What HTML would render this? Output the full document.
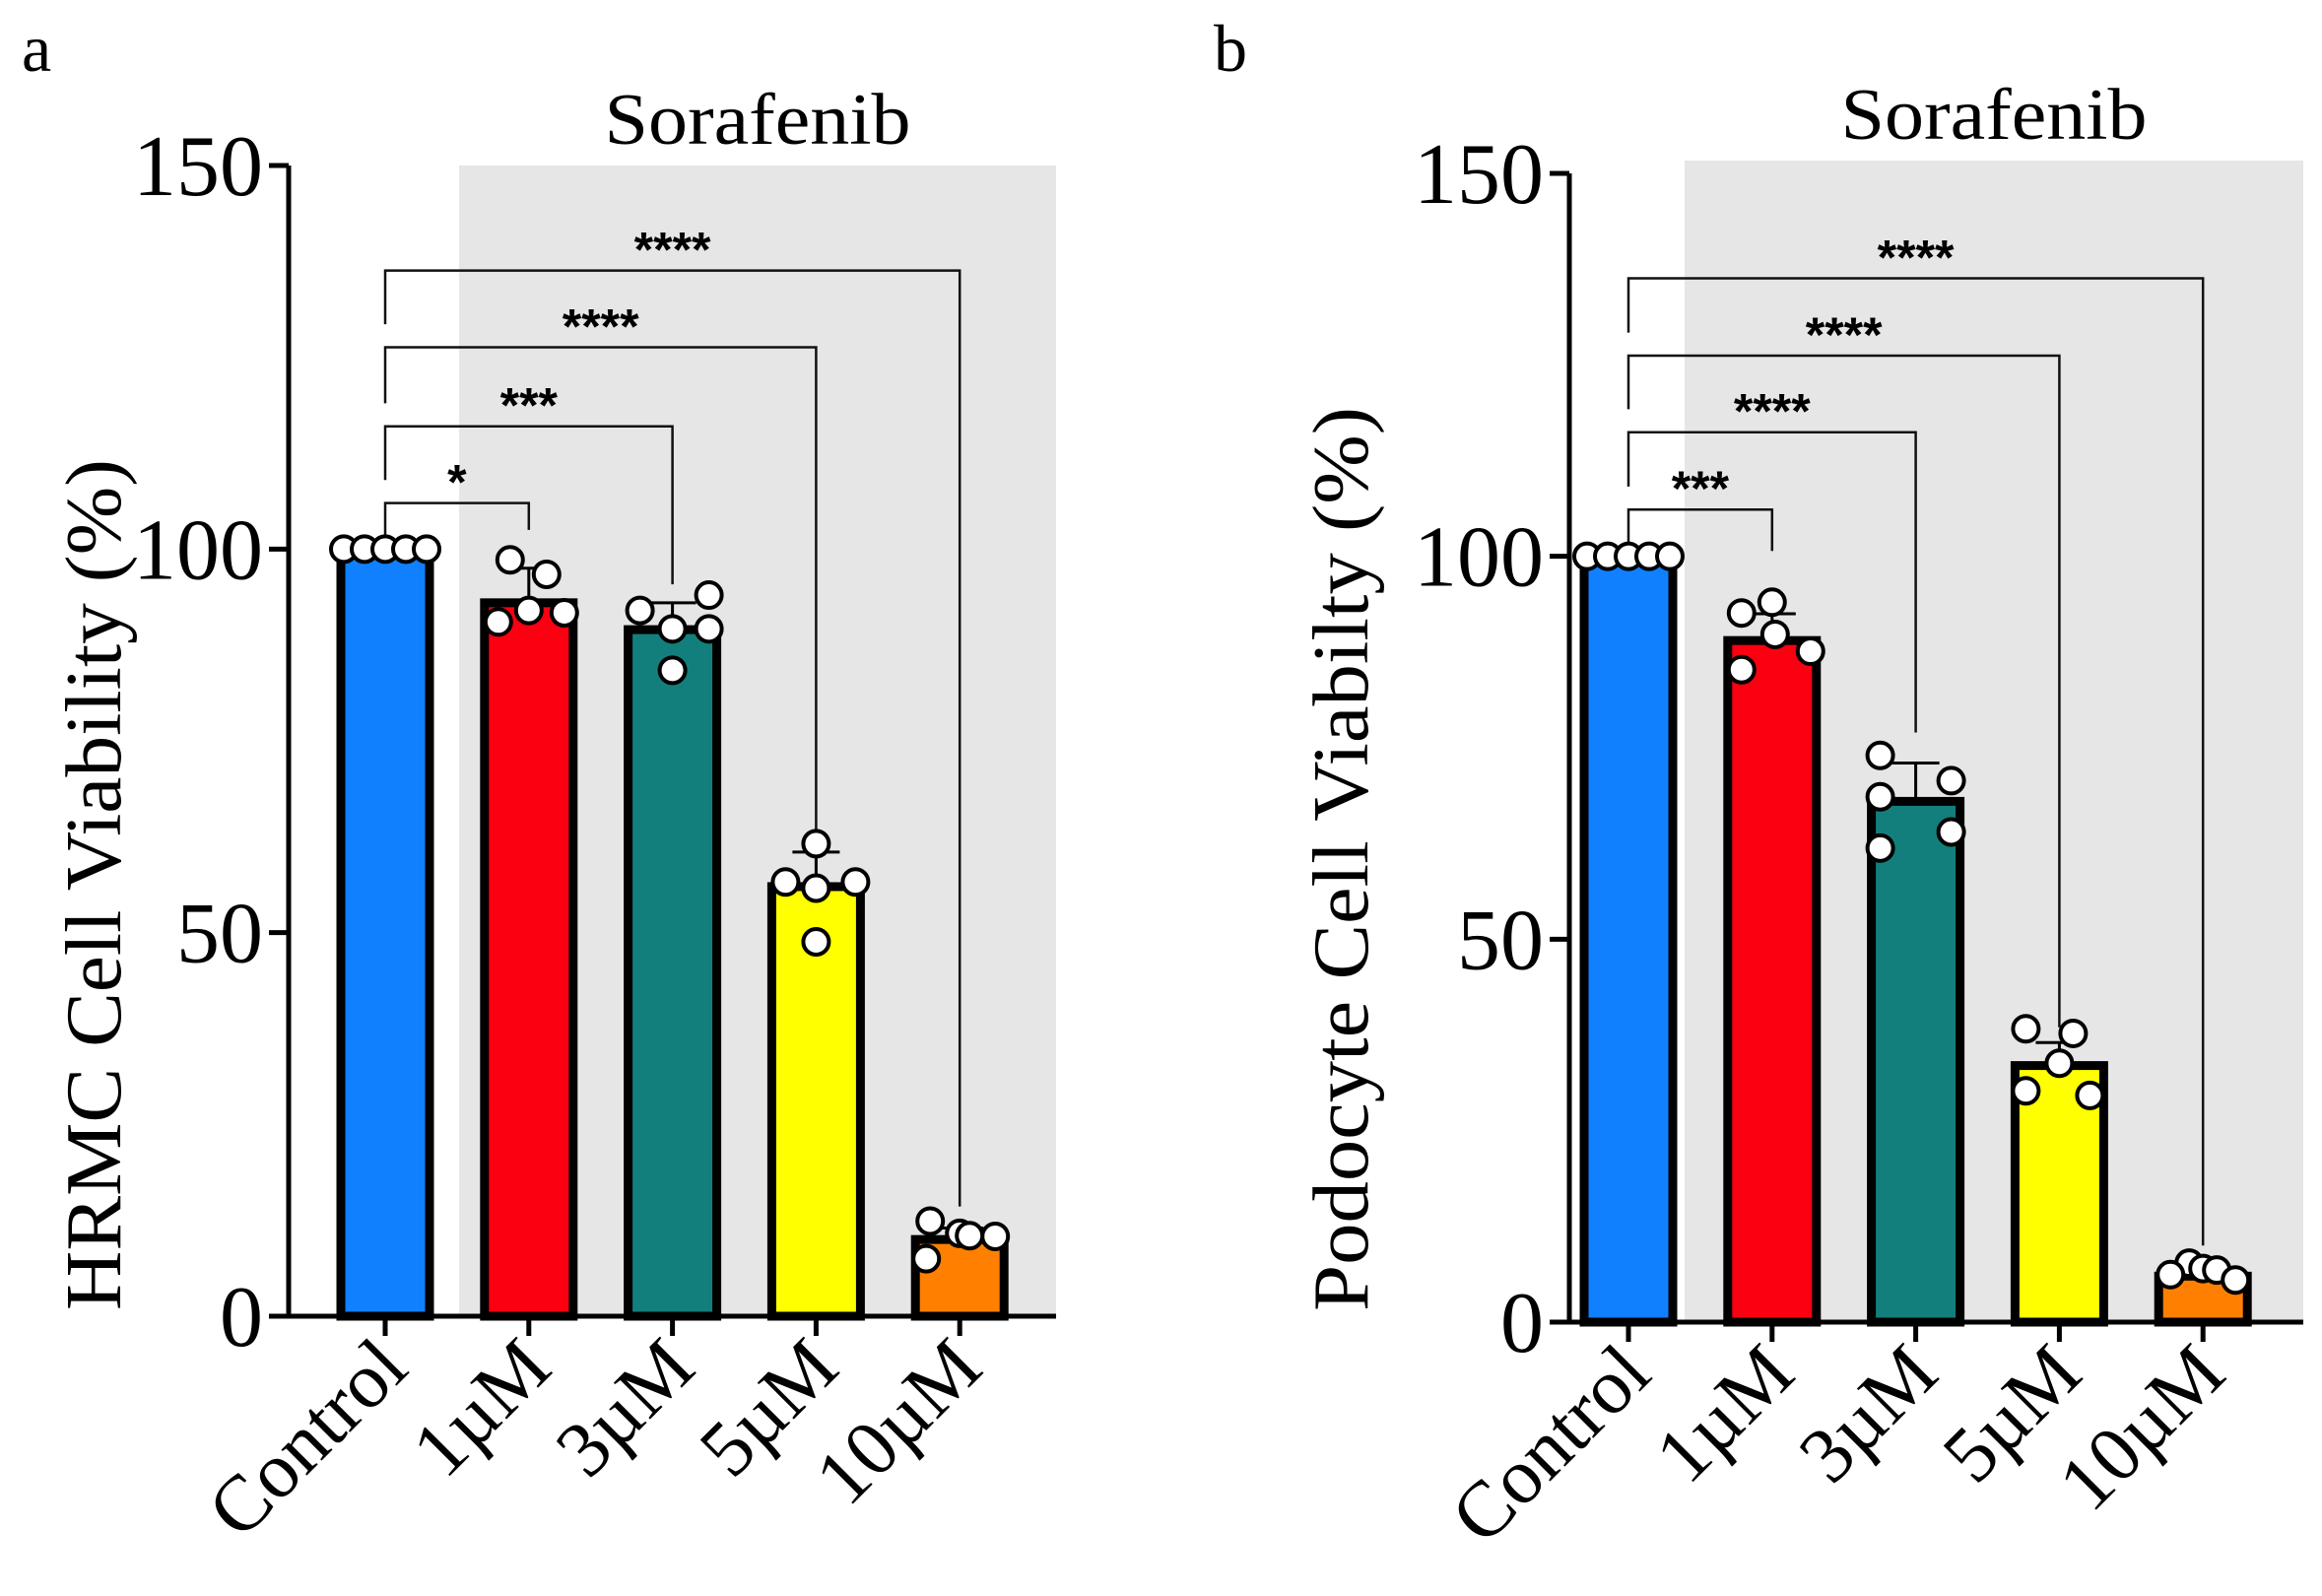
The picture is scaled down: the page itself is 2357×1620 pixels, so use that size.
<!DOCTYPE html>
<html><head><meta charset="utf-8"><style>
html,body{margin:0;padding:0;background:#fff}
svg{display:block;font-family:"Liberation Serif",serif}
</style></head><body>
<svg id="chart" width="2357" height="1620" viewBox="0 0 2357 1620" xmlns="http://www.w3.org/2000/svg"></svg>
<script>
const categories = ["Control","1µM","3µM","5µM","10µM"];
const yTicks = [0,50,100,150];
const colors = ["#1080ff","#fa0010","#127f7c","#ffff00","#ff8000"];
// Panel a
const meansA = [100,93,89.5,56,10];
const errA = [100,97.5,93,60.5,11.5];
const pointsA = [[100,100,100,100,100],[98.6,96.7,90.5,92,91.7],[92,94,89.6,89.6,84.2],[61.6,56.6,56.6,55.8,48.8],[12.4,10.8,10.4,7.5,10.5]];
const sigA = ["*","***","****","****"];
const sigLevelA = [106,116,126.3,136.3];
const sigEndA = [102.5,95.4,62.5,14.3];
// Panel b
const meansB = [100,89,68,33.5,6];
const errB = [100,92.5,73,36.5,7.5];
const pointsB = [[100,100,100,100,100],[94,92.6,89.8,87.6,85.2],[74,70.7,68.6,61.9,64],[38.3,37.7,33.8,30.2,29.6],[7.7,7,6.8,6.2,5.5]];
const sigB = ["***","****","****","****"];
const sigLevelB = [106.1,116.2,126.2,136.3];
const sigEndB = [100.7,77,38.5,10];

// horizontal jitter layout (px)
const jitA=[[-42,-21,0,21,42],[-19,18,-31,0,36],[-33,37,0,37,0],[0,-31,40,0,0],[-30,0,36,-34,10]];
const jitB=[[-42,-21,0,21,42],[0,-31,3,39,-31],[-36,36,-36,-36,36],[-34,14,0,-34,31],[-14,0,14,-33,33]];

const NS="http://www.w3.org/2000/svg";
const svg=document.getElementById('chart');
function mk(tag,attrs,parent){const e=document.createElementNS(NS,tag);for(const k in attrs)e.setAttribute(k,attrs[k]);(parent||svg).appendChild(e);return e;}

function panel(P){
  const g=mk('g',{});
  
  
  const y=v=>P.y0-(P.y0-P.y150)*v/150;
  const x=i=>P.xc[0]+i*P.step;
  const sh=mk('rect',{x:P.shadeX,y:P.shadeTop,width:P.axisEnd-P.shadeX,height:P.y0-P.shadeTop,fill:'#e6e6e6'},g);
  
  
  const st=mk('text',{x:(P.shadeX+P.axisEnd)/2,y:P.shadeTop-22,'font-size':74,'text-anchor':'middle',textLength:311,lengthAdjust:'spacingAndGlyphs'},g);
  st.textContent='Sorafenib';
  
  
  const lt=mk('text',{x:P.letterX,y:72,'font-size':68},g);
  lt.textContent=P.id;
  
  
  for(let k=0;k<4;k++){
    const ly=y(P.sigLevel[k]);
    const xe=x(k+1);
    const x0=x(0);
    const legTop=k===0?y(101.5):y(P.sigLevel[k-1]+3);
    const br=mk('path',{d:`M${x0} ${legTop} L${x0} ${ly} L${xe} ${ly} L${xe} ${y(P.sigEnd[k])}`,fill:'none',stroke:'#111',"stroke-width":2.5},g);
    
    
    const tx=mk('text',{x:(x0+xe)/2,y:ly-4,'font-size':50,'font-weight':'bold','text-anchor':'middle','font-family':'Liberation Sans, sans-serif'},g);
    tx.textContent=P.sig[k];
    
    
  }
  const bw=90;
  for(let i=0;i<5;i++){
    const b=mk('rect',{x:x(i)-bw/2,y:y(P.means[i]),width:bw,height:P.y0-y(P.means[i]),fill:colors[i],stroke:'#000','stroke-width':9},g);
    
    
    if(P.err[i]>P.means[i]){
      const e=mk('path',{d:`M${x(i)} ${y(P.means[i])} L${x(i)} ${y(P.err[i])} M${x(i)-24} ${y(P.err[i])} L${x(i)+24} ${y(P.err[i])}`,stroke:'#000','stroke-width':3},g);
      
      
    }
  }
  for(let i=0;i<5;i++){
    P.pts[i].forEach((v,j)=>{
      const c=mk('circle',{cx:x(i)+P.jit[i][j],cy:y(v),r:13,fill:'#fff',stroke:'#000','stroke-width':4},g);
      
      
    });
  }
  const ax=mk('path',{d:`M${P.ax} ${P.y150} L${P.ax} ${P.y0} L${P.axisEnd} ${P.y0}`,fill:'none',stroke:'#000','stroke-width':5},g);
  
  
  yTicks.forEach(t=>{
    const tk=mk('line',{x1:P.ax-20,x2:P.ax,y1:y(t),y2:y(t),stroke:'#000','stroke-width':5},g);
    
    
    const tl=mk('text',{x:P.ax-26,y:y(t)+30,'font-size':88,'text-anchor':'end'},g);
    tl.textContent=t;
    
    
  });
  categories.forEach((c,i)=>{
    const tk=mk('line',{x1:x(i),x2:x(i),y1:P.y0,y2:P.y0+20,stroke:'#000','stroke-width':5},g);
    
    
    const tl=mk('text',{x:0,y:0,'font-size':80,'text-anchor':'end',transform:`translate(${x(i)+26},${P.y0+56}) rotate(-45)`},g);
    tl.textContent=c;
    
    
  });
  const yt=mk('text',{x:0,y:0,'font-size':80,'text-anchor':'middle',textLength:P.titleLen,lengthAdjust:'spacingAndGlyphs',transform:`translate(${P.titleX},${P.titleY}) rotate(-90)`},g);
  yt.textContent=P.title;
  
  
}

panel({id:'a',y0:1336,y150:168,ax:293,axisEnd:1072,xc:[391],step:145.8,shadeX:466,shadeTop:168,letterX:22,
  means:meansA,err:errA,pts:pointsA,jit:jitA,sig:sigA,sigLevel:sigLevelA,sigEnd:sigEndA,
  title:'HRMC Cell Viability (%)',titleX:122,titleY:898,titleLen:864});
panel({id:'b',y0:1342,y150:176,ax:1593,axisEnd:2338,xc:[1653],step:145.8,shadeX:1710,shadeTop:163,letterX:1232,
  means:meansB,err:errB,pts:pointsB,jit:jitB,sig:sigB,sigLevel:sigLevelB,sigEnd:sigEndB,
  title:'Podocyte Cell Viabilty (%)',titleX:1388,titleY:872,titleLen:918});
</script>
</body></html>
